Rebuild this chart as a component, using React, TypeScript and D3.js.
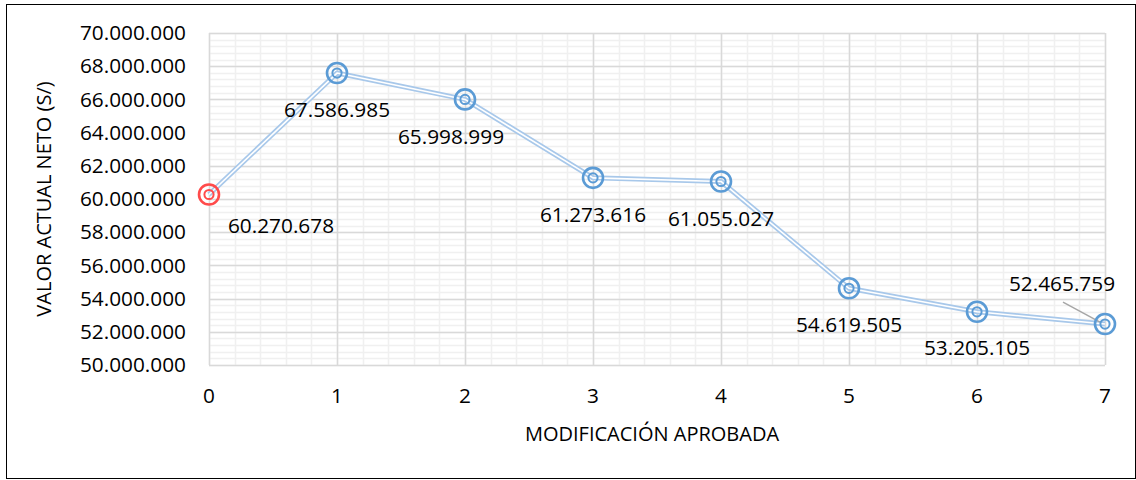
import React, { useEffect, useRef } from 'react';
import * as d3 from 'd3';

// modification index (x) and net present value (y)
const modifications = [0, 1, 2, 3, 4, 5, 6, 7];
const npvValues = [60270678, 67586985, 65998999, 61273616, 61055027, 54619505, 53205105, 52465759];
const labelOffsets: [number, number][] = [
  [72, 31], [0, 37], [-14, 37], [0, 37], [0, 37], [0, 36], [0, 36], [-43, -40],
];
const yTicks = d3.range(50000000, 70000001, 2000000);

const fmt = (v: number) => d3.format(',')(v).replace(/,/g, '.');

export default function App() {
  const svgRef = useRef<SVGSVGElement>(null);

  useEffect(() => {
    if (!svgRef.current) return;
    const svg = d3.select(svgRef.current);
    svg.selectAll('*').remove();

    const width = 1136;
    const height = 480;
    const margin = { top: 33, right: 31, bottom: 115, left: 209 };
    const font = "'Open Sans', sans-serif";
    const numSize = 20.8;
    const titleSize = 20;

    svg.attr('width', width).attr('height', height);

    svg.append('rect')
      .attr('x', 6.5).attr('y', 4.5)
      .attr('width', width - 7).attr('height', height - 6)
      .attr('fill', '#fff').attr('stroke', '#000').attr('stroke-width', 1);

    const x = d3.scaleLinear().domain([0, 7]).range([margin.left, width - margin.right]);
    const y = d3.scaleLinear().domain([50000000, 70000000]).range([height - margin.bottom, margin.top]);

    const g = svg.append('g');

    // minor grid
    g.selectAll('.vminor')
      .data(d3.range(0, 7.001, 0.2))
      .enter().append('line')
      .attr('x1', d => Math.round(x(d)) + 0.5).attr('x2', d => Math.round(x(d)) + 0.5)
      .attr('y1', y(70000000)).attr('y2', y(50000000))
      .attr('stroke', '#f0f0f0').attr('stroke-width', 1.5);
    g.selectAll('.hminor')
      .data(d3.range(50000000, 70000001, 400000))
      .enter().append('line')
      .attr('y1', d => Math.round(y(d)) + 0.5).attr('y2', d => Math.round(y(d)) + 0.5)
      .attr('x1', x(0)).attr('x2', x(7))
      .attr('stroke', '#f0f0f0').attr('stroke-width', 1.5);

    // major grid
    g.selectAll('.vmajor')
      .data(modifications)
      .enter().append('line')
      .attr('x1', d => Math.round(x(d)) + 0.5).attr('x2', d => Math.round(x(d)) + 0.5)
      .attr('y1', y(70000000)).attr('y2', y(50000000))
      .attr('stroke', '#d9d9d9').attr('stroke-width', 1.5);
    g.selectAll('.hmajor')
      .data(yTicks)
      .enter().append('line')
      .attr('y1', d => Math.round(y(d)) + 0.5).attr('y2', d => Math.round(y(d)) + 0.5)
      .attr('x1', x(0)).attr('x2', x(7))
      .attr('stroke', '#d9d9d9').attr('stroke-width', 1.5);

    // y tick labels
    g.selectAll('.ylab')
      .data(yTicks)
      .enter().append('text')
      .attr('x', 186).attr('y', d => y(d))
      .attr('dy', '0.35em')
      .attr('text-anchor', 'end')
      .attr('font-family', font).attr('font-size', numSize).attr('fill', '#000')
      .text(d => fmt(d));

    // x tick labels
    g.selectAll('.xlab')
      .data(modifications)
      .enter().append('text')
      .attr('x', d => x(d)).attr('y', 396)
      .attr('dy', '0.35em')
      .attr('text-anchor', 'middle')
      .attr('font-family', font).attr('font-size', numSize).attr('fill', '#000')
      .text(d => String(d));

    // axis titles
    svg.append('text')
      .attr('x', 652).attr('y', 434).attr('dy', '0.35em')
      .attr('text-anchor', 'middle')
      .attr('font-family', font).attr('font-size', titleSize).attr('fill', '#000')
      .text('MODIFICACIÓN APROBADA');
    svg.append('text')
      .attr('transform', `translate(44,${(y(50000000) + y(70000000)) / 2}) rotate(-90)`)
      .attr('dy', '0.35em')
      .attr('text-anchor', 'middle')
      .attr('font-family', font).attr('font-size', titleSize).attr('fill', '#000')
      .text('VALOR ACTUAL NETO (S/)');

    const pts = modifications.map((m, i) => ({ m, v: npvValues[i] }));
    const line = d3.line<{ m: number; v: number }>()
      .x(d => x(d.m))
      .y(d => y(d.v));

    // double compound line
    g.append('path').datum(pts)
      .attr('fill', 'none').attr('stroke', '#a8c8ea').attr('stroke-width', 5)
      .attr('stroke-linejoin', 'round')
      .attr('d', line);
    g.append('path').datum(pts)
      .attr('fill', 'none').attr('stroke', '#fff').attr('stroke-width', 1.6)
      .attr('stroke-linejoin', 'round')
      .attr('d', line);

    // leader line for last label
    const last = pts[pts.length - 1];
    g.append('line')
      .attr('x1', x(last.m) - 42).attr('y1', y(last.v) - 22)
      .attr('x2', x(last.m) - 5).attr('y2', y(last.v) - 2)
      .attr('stroke', '#a6a6a6').attr('stroke-width', 1.5);

    // markers
    const markers = g.selectAll('.marker')
      .data(pts)
      .enter().append('g')
      .attr('transform', d => `translate(${x(d.m)},${y(d.v)})`);
    markers.append('circle')
      .attr('r', 10)
      .attr('fill', 'none')
      .attr('stroke', (_, i) => (i === 0 ? '#ff4b4b' : '#5b9bd5'))
      .attr('stroke-width', 2.6);
    markers.append('circle')
      .attr('r', 4.6)
      .attr('fill', 'none')
      .attr('stroke', (_, i) => (i === 0 ? '#ff4b4b' : '#5b9bd5'))
      .attr('stroke-width', 2);

    // data labels
    g.selectAll('.dlab')
      .data(pts)
      .enter().append('text')
      .attr('x', (d, i) => x(d.m) + labelOffsets[i][0])
      .attr('y', (d, i) => y(d.v) + labelOffsets[i][1])
      .attr('dy', '0.35em')
      .attr('text-anchor', 'middle')
      .attr('font-family', font).attr('font-size', numSize).attr('fill', '#000')
      .text(d => fmt(d.v));
  }, []);

  return (
    <div style={{ position: 'absolute', left: 0, top: 0 }}>
      <svg ref={svgRef} style={{ display: 'block' }} />
    </div>
  );
}
